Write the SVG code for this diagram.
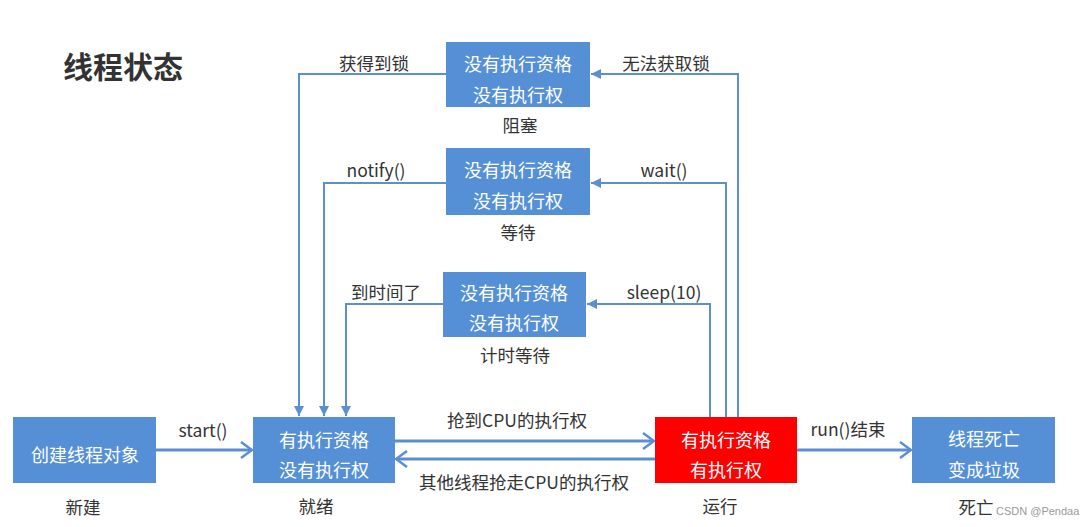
<svg xmlns="http://www.w3.org/2000/svg" width="1084" height="527" viewBox="0 0 1084 527">
<style>
.box{fill:#5590d6;}
.run{fill:#ff0000;}
.bt{font-family:"Noto Sans CJK SC","Noto Sans",sans-serif;font-size:18px;fill:#ffffff;text-anchor:middle;}
.lb{font-family:"Noto Sans CJK SC","Noto Sans",sans-serif;font-size:17.5px;fill:#333333;text-anchor:middle;}
.title{font-family:"Noto Sans CJK SC","Noto Sans",sans-serif;font-size:30px;font-weight:bold;fill:#333333;}
.wm{font-family:"Liberation Sans",sans-serif;font-size:11px;fill:#9a9a9a;}
.thin{fill:none;stroke:#5a8fd2;stroke-width:2;}
.thick{fill:none;stroke:#5a8fd2;stroke-width:3;}
</style>
<defs>
<marker id="tri" viewBox="0 0 10 10" refX="10" refY="5" markerWidth="10" markerHeight="10" markerUnits="userSpaceOnUse" orient="auto">
<path d="M0,0 L10,5 L0,10 z" fill="#5a8fd2"/>
</marker>
<marker id="chev" viewBox="-2 -2 15 20" refX="11" refY="8" markerWidth="15" markerHeight="20" markerUnits="userSpaceOnUse" orient="auto">
<path d="M0,0 L11,8 L0,16" fill="none" stroke="#5a8fd2" stroke-width="2.5"/>
</marker>
</defs>
<rect width="1084" height="527" fill="#ffffff"/>
<text class="title" x="63" y="78">线程状态</text>

<g id="connectors">
<path class="thick" d="M156,450 H252" marker-end="url(#chev)"/>
<path class="thick" d="M395,441 H654" marker-end="url(#chev)"/>
<path class="thick" d="M655,459 H396" marker-end="url(#chev)"/>
<path class="thick" d="M797,450 H911" marker-end="url(#chev)"/>
<path class="thin" d="M446,74 H299 V416" marker-end="url(#tri)"/>
<path class="thin" d="M446,183 H324 V416" marker-end="url(#tri)"/>
<path class="thin" d="M443,304 H346 V416" marker-end="url(#tri)"/>
<path class="thin" d="M738,417 V74 H591" marker-end="url(#tri)"/>
<path class="thin" d="M726,417 V183 H591" marker-end="url(#tri)"/>
<path class="thin" d="M710,417 V304 H587" marker-end="url(#tri)"/>
<text class="lb" x="203" y="437">start()</text>
<text class="lb" x="517" y="427">抢到CPU的执行权</text>
<text class="lb" x="524" y="489">其他线程抢走CPU的执行权</text>
<text class="lb" x="848" y="436">run()结束</text>
<text class="lb" x="374" y="70">获得到锁</text>
<text class="lb" x="666" y="70">无法获取锁</text>
<text class="lb" x="376" y="177">notify()</text>
<text class="lb" x="664" y="177">wait()</text>
<text class="lb" x="386" y="299">到时间了</text>
<text class="lb" x="664" y="299">sleep(10)</text>
</g>

<g id="new">
<rect class="box" x="13" y="417" width="143" height="66"/>
<text class="bt" x="85" y="462">创建线程对象</text>
<text class="lb" x="83" y="514">新建</text>
</g>
<g id="ready">
<rect class="box" x="253" y="417" width="142" height="66"/>
<text class="bt" x="324" y="447">有执行资格</text>
<text class="bt" x="324" y="477">没有执行权</text>
<text class="lb" x="316" y="513">就绪</text>
</g>
<g id="running">
<rect class="run" x="655" y="417" width="142" height="66"/>
<text class="bt" x="726" y="447">有执行资格</text>
<text class="bt" x="726" y="477">有执行权</text>
<text class="lb" x="720" y="513">运行</text>
</g>
<g id="dead">
<rect class="box" x="912" y="417" width="143" height="66"/>
<text class="bt" x="984" y="446">线程死亡</text>
<text class="bt" x="984" y="477">变成垃圾</text>
<text class="lb" x="976" y="514">死亡</text>
</g>
<g id="blocked">
<rect class="box" x="446" y="42" width="144" height="65"/>
<text class="bt" x="518" y="71">没有执行资格</text>
<text class="bt" x="518" y="102">没有执行权</text>
<text class="lb" x="520" y="132">阻塞</text>
</g>
<g id="waiting">
<rect class="box" x="446" y="148" width="144" height="67"/>
<text class="bt" x="518" y="177">没有执行资格</text>
<text class="bt" x="518" y="208">没有执行权</text>
<text class="lb" x="518" y="239">等待</text>
</g>
<g id="timed-waiting">
<rect class="box" x="443" y="272" width="143" height="65"/>
<text class="bt" x="514" y="300">没有执行资格</text>
<text class="bt" x="514" y="330">没有执行权</text>
<text class="lb" x="515" y="362">计时等待</text>
</g>
<text class="wm" x="996" y="515">CSDN @Pendaa</text>
</svg>
